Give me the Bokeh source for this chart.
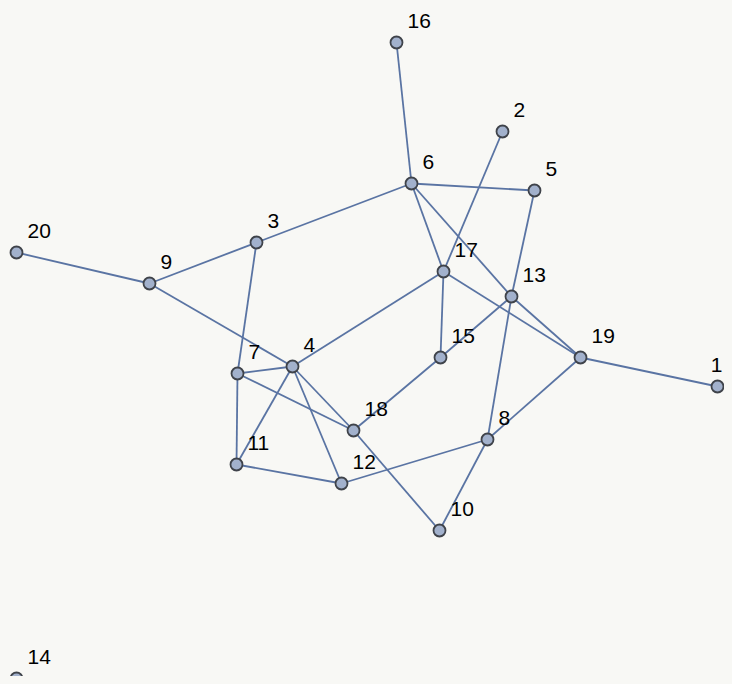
from bokeh.plotting import figure
from bokeh.models import Range1d, ColumnDataSource
from bokeh.core.properties import value
from bokeh.embed import file_html
from bokeh.resources import INLINE

# Node layout (reference picture coordinates)
node_ids = [1, 2, 3, 4, 5, 6, 7, 8, 9, 10, 11, 12, 13, 14, 15, 16, 17, 18, 19, 20]
node_x = [717, 502, 256, 292, 534, 411, 237, 487, 149, 439, 236, 341, 511, 16, 440, 396, 443, 353, 580, 16]
node_y = [386, 131, 242, 366, 190, 183, 373, 439, 283, 530, 464, 483, 296, 678, 357, 42, 271, 430, 357, 252]

edge_start = [16, 6, 6, 6, 6, 13, 5, 13, 13, 17, 2, 17, 17, 15, 18, 18, 18, 9, 9, 20, 3, 7, 7, 4, 4, 11, 12, 8, 8, 19]
edge_end = [6, 3, 5, 17, 13, 19, 13, 8, 15, 19, 17, 15, 4, 18, 7, 4, 10, 4, 3, 9, 7, 4, 11, 11, 12, 12, 8, 10, 19, 1]

BG = "#f8f8f5"
EDGE = "#5a74a3"
FILL = "#a2b1cc"
OUT = "#3f434a"

pos = {n: (x, y) for n, x, y in zip(node_ids, node_x, node_y)}
xs = [[pos[a][0], pos[b][0]] for a, b in zip(edge_start, edge_end)]
ys = [[pos[a][1], pos[b][1]] for a, b in zip(edge_start, edge_end)]

W, H = 724, 676
p = figure(width=W, height=H, output_backend="svg", toolbar_location=None,
           x_range=Range1d(0, W), y_range=Range1d(H, 0),
           min_border=0, background_fill_color=BG, border_fill_color=BG)
p.axis.visible = False
p.grid.visible = False
p.outline_line_color = None

p.multi_line(xs=xs, ys=ys, line_color=EDGE, line_width=1.8)

# label placement: right of node, except node at the right edge which is kept inside
align = ["right" if n == 1 else "left" for n in node_ids]
dx = [5 if n == 1 else 11 for n in node_ids]
src = ColumnDataSource(dict(x=node_x, y=node_y, label=[str(n) for n in node_ids],
                            align=align, dx=dx))
p.scatter(x="x", y="y", source=src, size=12, fill_color=FILL,
          line_color=OUT, line_width=1.8)
p.text(x="x", y="y", text="label", source=src, x_offset="dx", y_offset=-22,
       text_font=value("Liberation Sans"), text_font_size="21px",
       text_color="#000000", text_baseline="alphabetic", text_align="align")

html = file_html(p, INLINE)
html = html.replace("</head>", "<style>html,body{background-color:%s;}</style></head>" % BG, 1)
open("out.html", "w").write(html)
